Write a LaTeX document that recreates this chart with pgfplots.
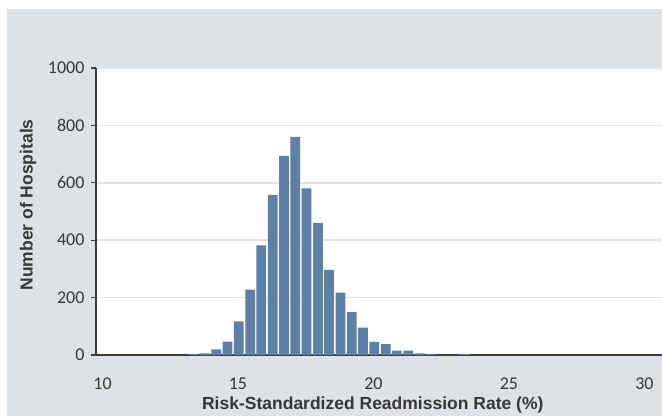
\documentclass[border=0pt]{standalone}
\usepackage{fontspec}
\setmainfont{Carlito}
\newfontfamily\arialfont{Liberation Sans}
\usepackage{pgfplots}
\pgfplotsset{compat=1.18}
\definecolor{bg}{RGB}{222,225,230}
\definecolor{barcol}{RGB}{94,128,165}
\definecolor{gridc}{RGB}{228,228,228}
\definecolor{axc}{RGB}{60,60,60}
\definecolor{txt}{RGB}{55,55,55}
\begin{document}
\begin{tikzpicture}[x=1pt,y=1pt]
\fill[white] (0,0) rectangle (662,416);
\fill[bg] (7,0) rectangle (662,407);
\begin{axis}[
  at={(96pt,61pt)}, anchor=south west,
  width=566pt, height=287pt, scale only axis,
  xmin=9.76, xmax=30.65, ymin=0, ymax=1000,
  axis background/.style={fill=white},
  axis x line=bottom, axis y line=left,
  axis line style={-, draw=axc, line width=1.5pt},
  xtick={10,15,20,25,30}, ytick={0,200,...,1000},
  ymajorgrids, grid style={gridc, line width=1.5pt},
  tick align=outside, major tick length=5pt,
  ytick style={draw=axc, line width=1.2pt},
  xtick style={draw=none},
  /pgf/number format/assume math mode=true,
  /pgf/number format/set thousands separator={},
  tick label style={font=\fontsize{18}{21}\selectfont, text=txt},
  xticklabel style={yshift=-14pt},
  yticklabel style={xshift=-3pt},
  xlabel={Risk-Standardized Readmission Rate (\%)},
  ylabel={Number of Hospitals},
  label style={font=\arialfont\bfseries\fontsize{17.5}{20}\selectfont, text=txt},
  xlabel style={at={(axis description cs:0.489,-0.174)}, anchor=center},
  ylabel style={at={(axis description cs:-0.1201,0.523)}, anchor=center},
]
\addplot[ybar, bar width=0.36, fill=barcol, draw=none] coordinates {
(13.36,3) (13.78,6) (14.20,20) (14.61,47) (15.03,117) (15.45,228)
(15.86,382) (16.28,558) (16.70,694) (17.11,760) (17.53,581) (17.95,460)
(18.36,297) (18.78,217) (19.20,149) (19.61,95) (20.03,46) (20.45,38)
(20.86,15) (21.28,15) (21.70,6) (22.11,3) (22.53,0) (22.95,0) (23.36,3)
};
\end{axis}
\pgfresetboundingbox
\useasboundingbox (0,0) rectangle (662,416);
\end{tikzpicture}
\end{document}
